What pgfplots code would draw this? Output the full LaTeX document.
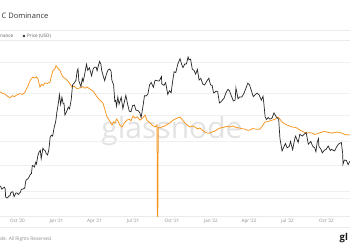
\documentclass[border=0pt]{standalone}
\usepackage{pgfplots}
\pgfplotsset{compat=1.18}
\usepackage{fontspec}
\setmainfont{Open Sans}
\definecolor{btcorange}{HTML}{F7931A}
\definecolor{gridc}{HTML}{F0F0F0}
\definecolor{sepc}{HTML}{EBEBEB}
\definecolor{labc}{HTML}{8A8A8A}
\definecolor{wm}{HTML}{E3E3E3}
\begin{document}
\begin{tikzpicture}[x=1pt,y=1pt]
\useasboundingbox (0,0) rectangle (350,-250);
\fill[white] (0,0) rectangle (350,-250);
\draw[sepc, line width=0.5pt] (0,-30) -- (350,-30);
\draw[sepc, line width=0.5pt] (0,-40) -- (350,-40);
\draw[sepc, line width=0.5pt] (0,-227) -- (350,-227);
\node[anchor=west, inner sep=0pt, font=\fontsize{7.5}{9}\selectfont, text=black!80] at (1.5,-16) {C Dominance};
\node[anchor=west, inner sep=0pt, font=\fontsize{4.6}{5}\selectfont, text=black!65] at (0,-36) {nance};
\fill[black!80] (24,-36) circle (1.3);
\node[anchor=west, inner sep=0pt, font=\fontsize{4.6}{5}\selectfont, text=black!65] at (27,-36) {Price (USD)};
\node[anchor=west, inner sep=0pt, font=\fontsize{4.8}{5}\selectfont, text=black!45] at (0,-239) {de. All Rights Reserved.};
\node[anchor=west, inner sep=0pt, font=\fontsize{9.5}{10}\selectfont\bfseries, text=black!90] at (339.5,-238.5) {gl};
\node[inner sep=0pt, text=wm, font=\fontsize{30}{30}\selectfont] at (172,-131) {glassnode};
\begin{axis}[
  at={(0pt,-216pt)}, anchor=south west, scale only axis,
  width=350pt, height=171pt,
  xmin=232.7, xmax=1059.5, ymin=20, ymax=87.06,
  axis x line*=bottom, axis y line*=left,
  x axis line style={draw=sepc, line width=0.6pt},
  y axis line style={draw=none},
  xtick={274,366,456,547,639,731,821,912,1004},
  xticklabels={Oct '20,Jan '21,Apr '21,Jul '21,Oct '21,Jan '22,Apr '22,Jul '22,Oct '22},
  xtick style={draw=none}, ytick style={draw=none},
  xticklabel style={font=\fontsize{4.6}{5}\selectfont, text=labc, inner sep=0pt, yshift=-2.5pt},
  ytick={27.06,29.80,40,49.41,59.61,68.24,80.39},
  yticklabels={},
  ymajorgrids, grid style={gridc, line width=0.5pt},
  clip=true,
]
\addplot[btcorange, line width=0.75pt] table {
x y
232.7 68.7
238 68.2
244.5 67.8
250 67.0
256.3 66.4
262 67.2
266 66.8
272.9 67.5
280 68.0
286 67.7
291.8 68.6
295 69.8
298.9 71.0
302 72.5
305.9 73.7
310 74.4
315.4 74.1
319 74.6
322.5 73.7
325 72.0
327.2 70.6
331 71.6
335 71.2
339.0 72.2
344 72.0
350.8 72.5
354 74.8
357.9 77.1
362 77.6
365 79.0
367.4 78.4
370 77.8
374.4 77.1
378 75.6
381.5 74.5
386 74.0
391.0 73.3
396 72.2
402.8 70.6
408 70.9
414 70.0
421.7 70.2
428 70.8
433 70.1
438.2 70.6
445 69.8
452.4 69.0
457 68.0
461.9 66.7
468 65.5
476.0 64.3
480 62.0
485.5 58.8
490 57.8
494 56.6
497.3 55.7
501 56.9
504.4 56.5
508 58.0
511.5 57.3
516 55.6
520.9 54.9
526 56.4
532.7 57.6
538 58.0
542 57.3
546.9 59.2
552 58.4
557 58.9
563.4 57.6
569 58.3
575.3 59.6
580 57.5
587.1 56.5
592 55.6
598.9 54.9
603.6 55.7
605 0
606.5 54.8
610.7 54.5
616 55.0
622.5 55.3
628 56.0
634.3 56.5
640 57.4
646.1 58.0
652 58.5
658.0 58.8
663 57.8
669.7 56.5
675 55.6
681.6 54.9
687 55.3
693.4 54.9
699 54.2
705.2 54.5
711 53.6
717.0 52.9
722 52.6
728.8 52.5
734 53.0
740.6 53.3
746 54.0
752.4 54.5
758 54.7
764.2 54.9
770 55.2
776.0 54.9
782 55.3
787.9 54.9
794 54.6
799.7 54.5
805 54.2
811.5 54.1
817 53.6
823.3 53.7
829 54.3
835.1 54.1
841 54.0
846.9 54.1
852 55.2
858.7 56.9
864 57.0
870.5 57.3
876 57.6
882.4 58.0
886 58.4
889.4 58.8
893 58.2
898.9 56.9
904 56.2
910.7 55.7
916 55.3
922.5 54.9
928 54.8
934.3 54.5
940 53.8
946.1 53.3
952 52.8
957.9 52.5
964 52.7
969.8 52.5
976 52.0
981.6 52.2
987 52.6
993.4 52.9
999 53.2
1005.2 52.9
1011 52.7
1017.0 52.5
1023 52.8
1028.8 52.9
1035 52.7
1040.6 52.5
1045 52.1
1050.1 51.8
1055 51.9
1059.5 51.8
};
\end{axis}
\begin{axis}[
  at={(0pt,-216pt)}, anchor=south west, scale only axis,
  width=350pt, height=171pt,
  xmin=232.7, xmax=1059.5, ymode=log, ymin=7900, ymax=79300,
  hide x axis, axis y line=none, ytick=\empty, clip=true,
]
\addplot[black!85, line width=0.7pt] table {
x y
232 11860
235 11650
237 11350
240 11500
243 11650
245 11400
246 10200
248 10100
251 10100
253 10350
256 10330
258 10800
261 10930
263 10950
266 10250
270 10750
273 10780
276 10550
281 10900
283 11300
288 11400
291 11500
294 12800
298 13000
301 13300
304 13800
307 14000
309 15600
312 15500
314 15300
317 16300
319 15950
322 17800
325 18700
328 19150
330 17100
334 19700
337 19200
339 19150
342 18300
345 18000
348 19250
350 21300
351 22800
354 23500
357 23200
359 24700
361 26300
363 27400
365 29000
367 32100
368 33000
371 36800
373 40600
376 35500
379 39200
382 35800
384 36000
386 30800
390 32300
394 34300
397 33500
401 38000
404 46200
408 47500
412 49100
415 55900
417 57500
419 48800
424 45200
427 50500
429 48400
432 52300
437 61200
440 56400
444 58300
449 52300
453 57600
456 58800
460 58700
462 56000
465 59800
468 63500
471 61300
473 56200
477 51700
480 49000
484 53500
488 56600
492 57300
495 55800
497 49200
501 46400
504 37000
506 37500
508 34700
511 39300
514 35700
519 39200
523 33600
527 37300
530 40200
534 35800
538 32500
542 32200
546 35000
550 35300
554 32900
559 32700
563 31800
566 29800
570 34100
574 40000
578 39900
582 40900
586 46300
590 47800
595 44800
599 49300
605 48900
609 48800
614 51800
615 46900
620 46000
624 47700
629 40700
633 42800
637 41600
640 47600
644 55300
648 54700
653 61600
658 65900
662 60900
665 58400
669 61300
673 61400
677 67500
679 64900
683 65500
687 57000
691 56300
695 53500
699 57000
703 49400
707 50600
712 46700
716 46200
721 48600
726 50700
730 46300
734 45900
737 41600
740 41800
743 42600
747 42200
751 36300
754 36700
758 37700
762 38700
766 41400
771 43600
775 42600
779 40000
784 37300
788 37700
790 44400
795 38400
799 39400
804 39300
809 41300
814 44500
818 47400
822 46400
826 43200
831 39500
835 40500
840 41400
845 40400
850 37700
854 39700
856 36000
859 30100
862 29000
866 29800
870 29200
875 29500
880 31700
886 29900
891 29100
894 22500
899 19000
903 20000
907 21000
911 19800
916 20200
919 21600
924 19300
929 22400
931 23200
937 21300
941 23800
947 23200
952 23900
956 24300
961 20800
967 21600
971 20300
976 19800
979 18800
982 21400
985 22400
986 20200
991 19400
994 18500
999 19200
1003 19400
1008 20300
1013 19100
1016 19400
1023 19000
1028 20100
1032 20800
1039 21300
1042 18500
1043 15900
1046 16800
1051 16700
1055 15800
1059 16500
};
\end{axis}
\end{tikzpicture}
\end{document}
